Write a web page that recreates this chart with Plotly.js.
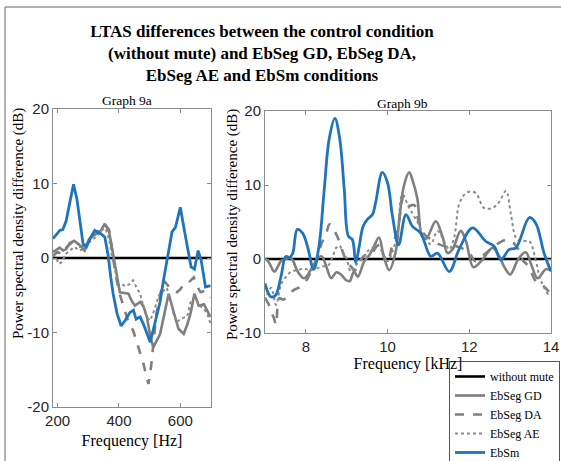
<!DOCTYPE html>
<html><head><meta charset="utf-8">
<script src="https://cdn.plot.ly/plotly-3.0.1.min.js"></script>
<style>html,body{margin:0;padding:0;background:#fff;} #chart{width:561px;height:461px;}</style>
</head><body><div id="chart"></div>
<script>
// ---------- Series names ----------
const seriesNames = ["without mute", "EbSeg GD", "EbSeg DA", "EbSeg AE", "EbSm"];

// ---------- Graph 9a (Hz) ----------
const baselineHz = [185, 700];
const baselineDb = [0, 0];

const smHzX = [185,207,217,228,240,252,263,273,283,294,308,321,343,354,365,373,381,394,407,420,436,447,456,469,480,502,518,534,545,556,573,584,600,612,624,635,646,658,668,682,698];
const smHzY = [2.6,3.7,3.8,5.0,7.5,9.9,7.9,4.5,1.9,1.5,2.8,3.7,3.2,2.8,0.3,-2.5,-4.8,-7.5,-9.1,-8.4,-7.3,-7.0,-8.2,-7.9,-8.9,-11.3,-8.5,-5.9,-3.0,-0.3,3.5,4.1,6.8,4.0,1.2,-1.2,-1.5,1.0,-0.3,-3.9,-3.7];

const gdHzX = [185,198,207,218,228,240,254,270,288,302,316,338,354,368,377,387,403,418,431,442,452,469,480,491,502,512,523,534,548,562,580,594,611,622,633,646,660,677,698];
const gdHzY = [0.8,1.2,1.4,1.0,1.2,2.0,2.3,1.8,1.0,2.5,3.0,3.5,4.6,3.5,1.5,-0.8,-4.6,-4.7,-4.8,-5.8,-6.4,-5.9,-6.5,-7.9,-10.5,-12.0,-11.0,-10.2,-7.5,-4.8,-7.5,-9.5,-10.2,-9.0,-7.5,-4.8,-6.4,-6.2,-7.9];

const daHzX = [185,200,215,230,250,270,290,310,330,354,368,378,387,400,415,430,446,460,470,480,490,496,505,512,522,534,545,556,567,578,589,600,611,622,633,644,655,666,680,698];
const daHzY = [0.3,0.8,0.5,1.5,2.2,1.5,1.6,2.8,3.5,4.5,3.8,1.0,-1.7,-4.5,-6.5,-8.5,-9.7,-11.5,-13.0,-14.2,-16.0,-16.9,-14.5,-11.2,-7.5,-5.0,-3.0,-3.5,-4.1,-4.4,-4.6,-4.2,-3.5,-3.5,-3.0,-2.6,-3.8,-4.6,-4.4,-5.3];

const aeHzX = [185,195,205,215,225,240,255,270,285,300,315,330,345,356,368,378,388,398,409,420,435,446,458,469,480,491,502,515,530,545,556,567,578,589,600,611,622,633,644,655,666,677,688,698];
const aeHzY = [0.5,0.0,-0.8,-0.5,0.5,1.0,1.5,1.0,1.2,2.0,2.5,3.0,3.8,4.0,2.5,0.0,-1.8,-3.5,-3.5,-3.8,-3.5,-3.0,-4.0,-4.8,-6.5,-8.0,-8.4,-7.0,-5.0,-4.4,-4.0,-5.5,-7.5,-8.6,-8.2,-8.0,-7.9,-6.0,-5.3,-5.8,-6.5,-6.8,-7.5,-8.8];

// ---------- Graph 9b (kHz) ----------
const baselineKHz = [7, 14];

const smKX = [7.0,7.14,7.26,7.39,7.51,7.6,7.68,7.79,7.92,8.04,8.19,8.32,8.45,8.57,8.71,8.83,8.94,9.04,9.14,9.22,9.30,9.40,9.51,9.63,9.71,9.87,10.0,10.12,10.27,10.45,10.61,10.81,11.06,11.22,11.51,11.75,12.08,12.40,12.61,12.77,12.98,13.14,13.47,13.63,13.83,14.0];
const smKY = [-3.3,-5.1,-4.9,-2.4,0.35,0.2,0.8,4.0,3.5,1.7,-1.4,1.7,9.4,16.2,19.0,16.2,9.4,3.1,2.6,-0.5,1.5,4.4,5.4,6.0,7.7,11.7,10.3,5.8,1.9,6.0,4.4,3.5,0.35,0.8,-1.7,1.3,4.2,2.4,1.7,-0.1,1.3,1.5,5.6,4.8,0.8,-1.7];

const gdKX = [7.0,7.1,7.23,7.39,7.5,7.64,7.8,7.96,8.17,8.3,8.39,8.5,8.62,8.75,8.86,8.97,9.07,9.18,9.27,9.43,9.55,9.65,9.79,9.9,10.04,10.2,10.28,10.4,10.53,10.62,10.73,10.85,10.95,11.18,11.34,11.47,11.59,11.79,11.92,12.1,12.32,12.57,12.73,12.85,13.0,13.2,13.38,13.52,13.67,13.87,14.0];
const gdKY = [0.1,-0.5,-1.7,-0.3,0.0,0.1,-1.7,-2.6,-1.0,0.2,0.35,-1.0,-2.6,-1.8,-2.1,-2.8,-3.0,-1.7,-2.4,-0.3,0.5,1.5,2.9,0.5,-1.5,1.0,4.9,9.9,11.7,10.5,8.1,3.0,2.8,5.1,3.1,0.8,1.3,3.8,2.4,-1.1,-0.1,1.5,0.4,-1.0,-2.1,0.0,0.9,-0.8,-2.6,-1.4,-1.5];

const daKX = [7.0,7.08,7.15,7.22,7.27,7.35,7.45,7.56,7.7,7.85,8.0,8.1,8.21,8.37,8.5,8.58,8.68,8.78,8.9,9.0,9.1,9.2,9.3,9.45,9.6,9.7,9.79,9.9,10.0,10.1,10.24,10.4,10.53,10.65,10.77,10.94,11.1,11.25,11.43,11.6,11.8,12.0,12.15,12.32,12.5,12.65,12.9,13.06,13.2,13.3,13.45,13.63,13.8,13.95];
const daKY = [-5.3,-6.0,-7.1,-8.0,-8.9,-5.3,-5.5,-4.9,-4.2,-3.8,-3.0,-2.0,-1.0,1.9,3.5,4.7,4.0,2.9,1.0,-0.3,-1.0,-1.5,-0.5,0.5,0.5,1.5,1.9,0.5,-0.5,1.5,3.8,8.5,7.2,7.3,4.9,3.1,2.6,2.0,1.7,1.8,1.5,0.8,-0.3,0.4,1.2,1.9,2.6,2.3,1.3,-0.1,-1.0,-3.0,-3.6,-4.4];

const aeKX = [7.0,7.15,7.27,7.39,7.5,7.64,7.8,7.96,8.1,8.25,8.4,8.54,8.65,8.74,8.82,8.9,9.0,9.1,9.2,9.3,9.4,9.5,9.62,9.75,9.88,10.0,10.12,10.24,10.36,10.53,10.73,10.9,11.06,11.22,11.43,11.51,11.63,11.75,11.88,12.0,12.16,12.36,12.57,12.73,12.9,13.02,13.14,13.26,13.47,13.63,13.75,13.94];
const aeKY = [-5.6,-3.9,-6.2,-3.5,-2.5,-1.7,-1.5,-1.3,-1.5,-1.3,-1.0,-0.9,0.2,1.5,1.8,1.0,0.0,-1.7,-1.0,-0.3,0.2,1.0,1.5,1.9,0.8,-0.3,1.0,3.4,8.7,6.9,5.0,3.1,2.0,3.8,1.9,1.3,2.9,7.4,8.7,9.1,8.9,6.9,6.9,7.7,9.2,6.0,2.9,2.4,2.4,-0.3,-2.9,-4.9];

// ---------- Tick labels ----------
const hzTicks = [200, 400, 600];
const dbTicksA = [-20, -10, 0, 10, 20];
const dbTickTextA = ["-20", "-10", "0", "10", "20"];
const kHzTicks = [8, 10, 12, 14];
const dbTicksB = [-10, 0, 10, 20];
const dbTickTextB = ["-10", "0", "10", "20"];

// ---------- Styles ----------
const styles = [
  {color: "#000000", width: 2.6, dash: "solid"},
  {color: "#7f7f7f", width: 2.6, dash: "solid"},
  {color: "#7f7f7f", width: 2.6, dash: "dash"},
  {color: "#8a8a8a", width: 2.0, dash: "dot"},
  {color: "#1f74bb", width: 2.8, dash: "solid"}
];

const leftSets = [[baselineHz, baselineDb],[gdHzX, gdHzY],[daHzX, daHzY],[aeHzX, aeHzY],[smHzX, smHzY]];
const rightSets = [[baselineKHz, baselineDb],[gdKX, gdKY],[daKX, daKY],[aeKX, aeKY],[smKX, smKY]];

const traces = [];
leftSets.forEach((s, i) => traces.push({
  x: s[0], y: s[1], type: "scatter", mode: "lines", name: seriesNames[i],
  xaxis: "x", yaxis: "y", line: Object.assign({}, styles[i]), showlegend: true, legendrank: i + 1
}));
rightSets.forEach((s, i) => traces.push({
  x: s[0], y: s[1], type: "scatter", mode: "lines", name: seriesNames[i],
  xaxis: "x2", yaxis: "y2", line: Object.assign({shape: i === 0 ? "linear" : "spline", smoothing: 1}, styles[i]), showlegend: false
}));

const W = 561, H = 461;
const px = v => v / W, py = v => 1 - v / H;

const axisBase = {
  showline: true, mirror: "ticks", linecolor: "#8c8c8c", linewidth: 1,
  ticks: "inside", ticklen: 4, tickcolor: "#8c8c8c", showgrid: false, zeroline: false,
  tickfont: {family: "Liberation Sans, Arial, sans-serif", size: 15, color: "#262626"},
  fixedrange: true
};
const serif = "Liberation Serif, Times New Roman, serif";

const layout = {
  width: W, height: H,
  margin: {l: 0, r: 0, t: 0, b: 0, autoexpand: false},
  paper_bgcolor: "#ffffff", plot_bgcolor: "#ffffff",
  title: {
    text: "<b>LTAS differences between the control condition<br>(without mute) and EbSeg GD, EbSeg DA,<br>EbSeg AE and EbSm conditions</b>",
    x: px(262), xanchor: "center", xref: "paper", y: py(37), yanchor: "top", yref: "container",
    font: {family: serif, size: 17, color: "#000"}
  },
  xaxis: Object.assign({}, axisBase, {domain: [px(53), px(211)], range: [185, 700], tickvals: hzTicks, anchor: "y",
    title: {text: "Frequency [Hz]", font: {family: serif, size: 16, color: "#000"}, standoff: 6}}),
  yaxis: Object.assign({}, axisBase, {domain: [py(407), py(109)], range: [-20, 20], tickvals: dbTicksA, ticktext: dbTickTextA, anchor: "x"}),
  xaxis2: Object.assign({}, axisBase, {domain: [px(265), px(551)], range: [7, 14], tickvals: kHzTicks, anchor: "y2",
    title: {text: "Frequency [kHz]", font: {family: serif, size: 16, color: "#000"}, standoff: 2}}),
  yaxis2: Object.assign({}, axisBase, {domain: [py(333), py(111)], range: [-10, 20], tickvals: dbTicksB, ticktext: dbTickTextB, anchor: "x2"}),
  showlegend: true,
  legend: {
    xref: "container", yref: "container",
    x: px(449), y: py(361), xanchor: "left", yanchor: "top",
    bgcolor: "#ffffff", bordercolor: "#555555", borderwidth: 1,
    font: {family: serif, size: 12, color: "#000"}, tracegroupgap: 0, itemwidth: 30
  },
  annotations: [
    {text: "Graph 9a", x: px(127), y: py(100), xref: "paper", yref: "paper", showarrow: false,
     font: {family: serif, size: 13.5, color: "#000"}, xanchor: "center", yanchor: "middle"},
    {text: "Graph 9b", x: px(402), y: py(103), xref: "paper", yref: "paper", showarrow: false,
     font: {family: serif, size: 13.5, color: "#000"}, xanchor: "center", yanchor: "middle"},
    {text: "Power spectral density difference (dB)", x: px(18), y: py(224), xref: "paper", yref: "paper",
     showarrow: false, textangle: -90, font: {family: serif, size: 15, color: "#000"}, xanchor: "center", yanchor: "middle"},
    {text: "Power spectral density difference (dB)", x: px(232), y: py(225), xref: "paper", yref: "paper",
     showarrow: false, textangle: -90, font: {family: serif, size: 15, color: "#000"}, xanchor: "center", yanchor: "middle"}
  ],
  shapes: [
    {type: "line", xref: "paper", yref: "paper", x0: px(5), x1: 1, y0: py(7), y1: py(7), line: {color: "#9a9a9a", width: 1.5}},
    {type: "line", xref: "paper", yref: "paper", x0: px(5), x1: px(5), y0: py(7), y1: 0, line: {color: "#9a9a9a", width: 1.5}}
  ]
};

Plotly.newPlot("chart", traces, layout, {displayModeBar: false, staticPlot: true});
</script>
</body></html>
